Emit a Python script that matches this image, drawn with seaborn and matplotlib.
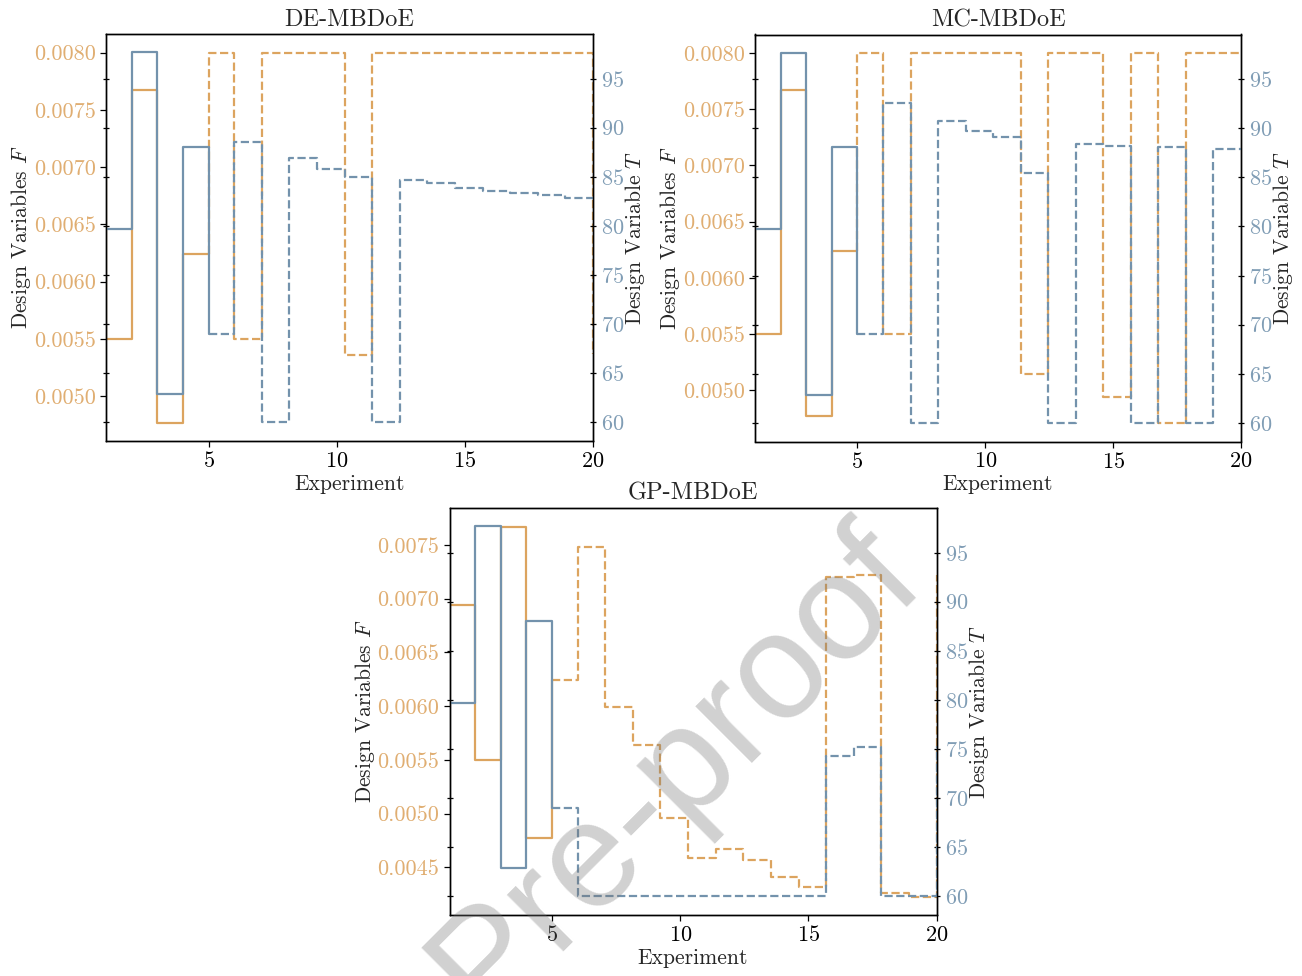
import matplotlib
matplotlib.use("Agg")
import matplotlib.pyplot as plt
import seaborn as sns
from matplotlib.ticker import FormatStrFormatter, MultipleLocator

# ---------------- data ----------------
titles = ["DE-MBDoE", "MC-MBDoE", "GP-MBDoE"]

# initial (solid) experiments, step edges
x_init = [1, 2, 3, 4, 5]
# MBDoE (dashed) experiments, step edges
x_mbdoe = [5, 6, 7.08, 8.15, 9.23, 10.31, 11.38, 12.46, 13.54, 14.62,
           15.69, 16.77, 17.85, 18.92, 20]

F_init = [0.00694, 0.0055, 0.00767, 0.00477, 0.00624]
T_init = [79.7, 97.65, 62.85, 88.05, 69.05]

F_de = [0.0080, 0.0055, 0.0080, 0.0080, 0.0080, 0.00536, 0.0080, 0.0080,
        0.0080, 0.0080, 0.0080, 0.0080, 0.0080, 0.0080, 0.00537]
T_de = [69.05, 88.55, 60.0, 86.9, 85.75, 84.95, 60.0, 84.65, 84.4, 83.9,
        83.6, 83.35, 83.15, 82.85, 82.85]

F_mc = [0.0080, 0.0055, 0.0080, 0.0080, 0.0080, 0.0080, 0.00515, 0.0080,
        0.0080, 0.00494, 0.0080, 0.00471, 0.0080, 0.0080, 0.0080]
T_mc = [69.05, 92.6, 60.0, 90.7, 89.75, 89.15, 85.4, 60.0, 88.4, 88.2,
        60.0, 88.1, 60.0, 87.9, 87.9]

F_gp = [0.00624, 0.00748, 0.00599, 0.00564, 0.00496, 0.00459, 0.00467,
        0.00457, 0.00441, 0.00432, 0.00720, 0.00722, 0.00426, 0.00423, 0.00722]
T_gp = [69.05, 60.0, 60.0, 60.0, 60.0, 60.0, 60.0, 60.0, 60.0, 60.0,
        74.3, 75.25, 60.0, 60.0, 75.3]

F_sets = [F_de, F_mc, F_gp]
T_sets = [T_de, T_mc, T_gp]
F_init_style = ["steps-pre", "steps-pre", "steps-post"]

# ---------------- style ----------------
C_F = "#DCA45F"
C_T = "#7392AC"
C_F_LBL = "#E0AE72"
C_T_LBL = "#809DB5"

sns.set_theme(style="ticks")
plt.rcParams.update({
    "font.family": "serif",
    "font.serif": ["cmr10", "DejaVu Serif"],
    "mathtext.fontset": "cm",
    "axes.formatter.use_mathtext": True,
    "axes.unicode_minus": False,
    "axes.edgecolor": "black",
    "axes.linewidth": 1.0,
    "xtick.major.size": 4,
    "ytick.major.size": 4,
    "xtick.major.width": 0.9,
    "ytick.major.width": 0.9,
    "xtick.color": "black",
    "ytick.color": "black",
    "xtick.direction": "out",
    "ytick.direction": "out",
})

fig = plt.figure(figsize=(13.02, 9.76), dpi=100)
W, H = 1302.0, 976.0
rects = [
    [106 / W, 1 - 441 / H, 487 / W, 407 / H],
    [755 / W, 1 - 441.5 / H, 486 / W, 407 / H],
    [449.5 / W, 1 - 915 / H, 487 / W, 407 / H],
]

for k in range(3):
    ax = fig.add_axes(rects[k])
    ax2 = ax.twinx()
    F_mb = F_sets[k]
    T_mb = T_sets[k]
    xd = [x_mbdoe[0]] + x_mbdoe

    # F (left axis)
    sns.lineplot(x=xd, y=[F_init[-1]] + F_mb, ax=ax, color=C_F, lw=1.6,
                 ls="--", drawstyle="steps-post", estimator=None, sort=False)
    sns.lineplot(x=x_init, y=F_init, ax=ax, color=C_F, lw=1.6,
                 drawstyle=F_init_style[k], estimator=None, sort=False)
    # T (right axis)
    sns.lineplot(x=xd, y=[T_init[-1]] + T_mb, ax=ax2, color=C_T, lw=1.6,
                 ls="--", drawstyle="steps-post", estimator=None, sort=False)
    sns.lineplot(x=x_init, y=T_init, ax=ax2, color=C_T, lw=1.6,
                 drawstyle="steps-post", estimator=None, sort=False)

    ax.set_xlim(1, 20)
    ax.xaxis.set_major_locator(MultipleLocator(5))
    ax.yaxis.set_major_locator(MultipleLocator(0.0005))
    ax.yaxis.set_major_formatter(FormatStrFormatter("%.4f"))
    ax2.yaxis.set_major_locator(MultipleLocator(5))

    ax.tick_params(axis="y", labelcolor=C_F_LBL, labelsize=16)
    ax.tick_params(axis="x", labelsize=16)
    ax2.tick_params(axis="y", labelcolor=C_T_LBL, labelsize=16, direction="inout",
                    left=True, right=True, length=5)

    ax.set_xlabel("Experiment", fontsize=15.5, labelpad=2)
    ax.set_ylabel(r"Design Variables $F$", fontsize=15.5, labelpad=0.5)
    ax2.set_ylabel(r"Design Variable $T$", fontsize=15.5, labelpad=-1)
    ax.set_title(titles[k], fontsize=17.5, pad=6)

    for a in (ax, ax2):
        for s in a.spines.values():
            s.set_visible(True)
            s.set_color("black")
            s.set_linewidth(1.0)

# watermark
fig.text(0.377, 0.007, "Journal Pre-proof", rotation=45, fontsize=108,
         family="Liberation Sans", color="0.45", alpha=0.33,
         ha="center", va="center", rotation_mode="anchor", zorder=10)

fig.savefig("out.png", dpi=100)
